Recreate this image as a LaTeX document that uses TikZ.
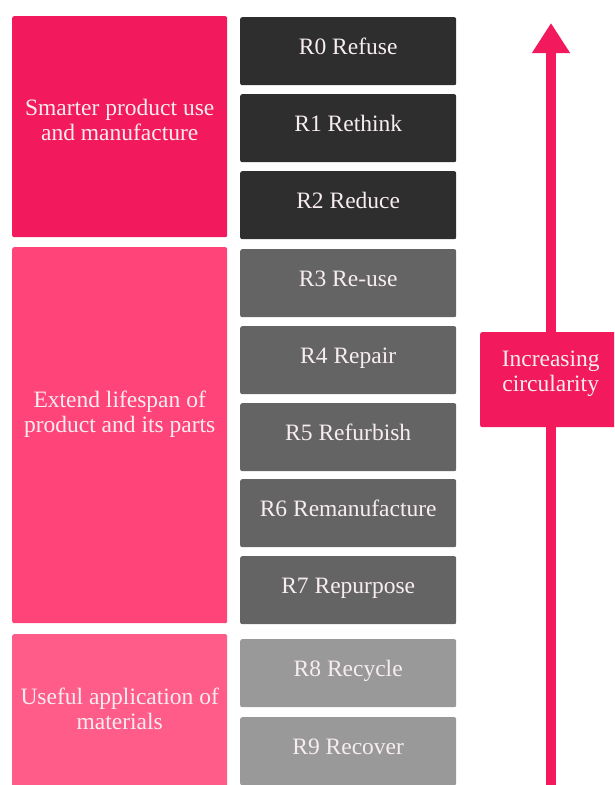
\documentclass[tikz,border=0pt]{standalone}
\usepackage{fontspec}
\setmainfont{Liberation Serif}
\usetikzlibrary{arrows.meta}
\definecolor{pinkA}{HTML}{F2195C}
\definecolor{pinkB}{HTML}{FF4479}
\definecolor{pinkC}{HTML}{FF5C8A}
\definecolor{greyA}{HTML}{2E2E2E}
\definecolor{greyB}{HTML}{646464}
\definecolor{greyC}{HTML}{999999}
\definecolor{txt}{HTML}{F7EDF0}
\begin{document}
\begin{tikzpicture}[x=1pt,y=-1pt,
  grpbox/.style={rounded corners=2pt, minimum width=215pt, inner sep=0pt, anchor=north west},
  grptext/.style={text=txt, font=\fontsize{23.5}{25}\selectfont, align=center, inner sep=0pt},
  rbox/.style={rounded corners=2pt, minimum width=216pt, minimum height=68pt, inner sep=0pt, anchor=north west,
    text=txt, font=\fontsize{23.5}{25}\selectfont, text height=10pt, text depth=4pt},
  arrowline/.style={draw=pinkA, line width=10pt, -{Triangle[width=36pt,length=30pt]}}
]
\useasboundingbox (0,0) rectangle (614,785);
\clip (0,0) rectangle (614,785);
% left groups
\node[grpbox, fill=pinkA, minimum height=221pt] (g1) at (12,16) {};
\node[grptext] (g1t) at ([yshift=7pt]g1.center) {Smarter product use\\and manufacture};
\node[grpbox, fill=pinkB, minimum height=376pt] (g2) at (12,247) {};
\node[grptext] (g2t) at ([yshift=20.5pt]g2.center) {Extend lifespan of\\product and its parts};
\node[grpbox, fill=pinkC, minimum height=160pt] (g3) at (12,634) {};
\node[grptext] (g3t) at ([yshift=5.5pt]g3.center) {Useful application of\\materials};
% R boxes
\node[rbox, fill=greyA] (r0) at (240,17) {R0 Refuse};
\node[rbox, fill=greyA] (r1) at (240,94) {R1 Rethink};
\node[rbox, fill=greyA] (r2) at (240,171) {R2 Reduce};
\node[rbox, fill=greyB] (r3) at (240,249) {R3 Re-use};
\node[rbox, fill=greyB] (r4) at (240,326) {R4 Repair};
\node[rbox, fill=greyB] (r5) at (240,403) {R5 Refurbish};
\node[rbox, fill=greyB] (r6) at (240,479) {R6 Remanufacture};
\node[rbox, fill=greyB] (r7) at (240,556) {R7 Repurpose};
\node[rbox, fill=greyC] (r8) at (240,639) {R8 Recycle};
\node[rbox, fill=greyC] (r9) at (240,717) {R9 Recover};
% arrow
\coordinate (abot) at (551,790);
\coordinate (atop) at (551,23);
\draw[arrowline] (abot) -- (atop);
\node[rounded corners=2pt, fill=pinkA, anchor=north west, minimum width=150pt, minimum height=95pt, inner sep=0pt] (lab) at (480,332) {};
\node[grptext] (labt) at ([xshift=-4.5pt,yshift=6pt]lab.center) {Increasing\\circularity};
\end{tikzpicture}
\end{document}
